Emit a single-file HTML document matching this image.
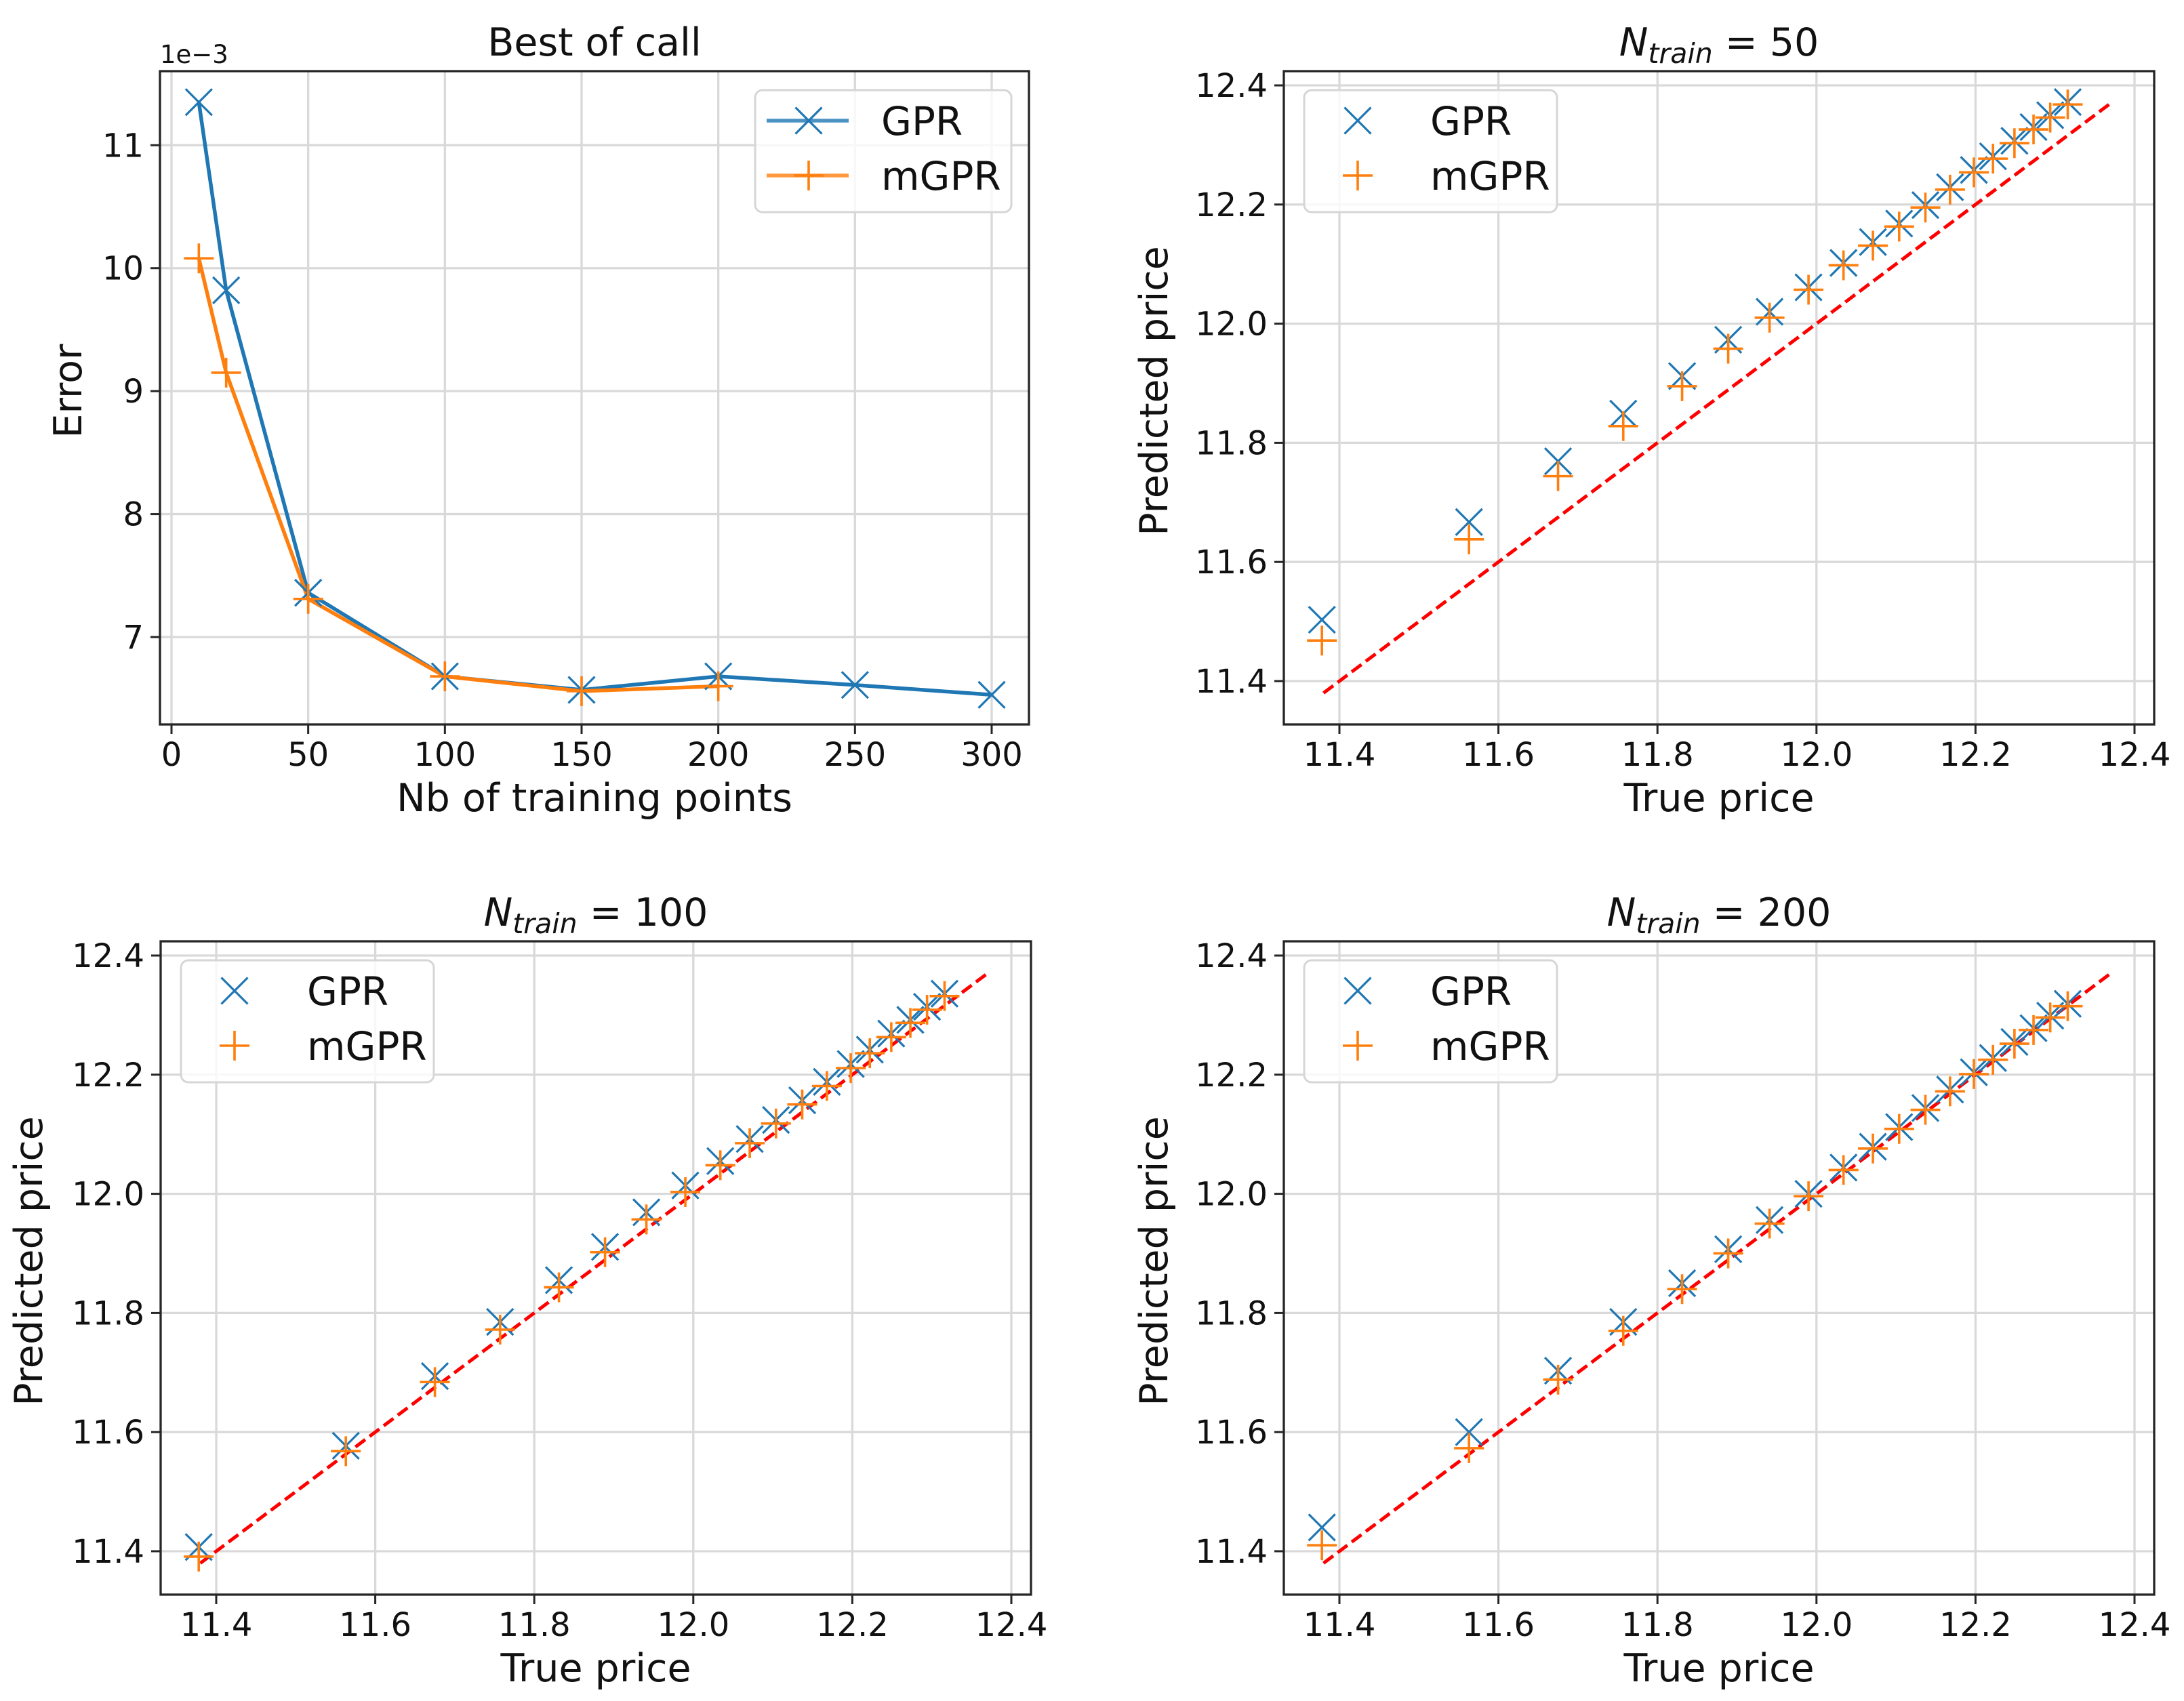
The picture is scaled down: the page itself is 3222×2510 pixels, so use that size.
<!DOCTYPE html>
<html><head><meta charset="utf-8"><style>
html,body{margin:0;padding:0;background:#fff;}
svg{display:block;font-family:"DejaVu Sans","Liberation Sans",sans-serif;}
</style></head><body>
<svg id="fig" width="3222" height="2510" viewBox="0 0 3222 2510" xmlns="http://www.w3.org/2000/svg"></svg>
<script>
// ---- Panel 1 data: Best of call ----
const nbPointsGPR = [10, 20, 50, 100, 150, 200, 250, 300];
const errorGPR = [11.35, 9.82, 7.36, 6.68, 6.57, 6.68, 6.61, 6.53];
const nbPointsMGPR = [10, 20, 50, 100, 150, 200];
const errorMGPR = [10.08, 9.15, 7.31, 6.68, 6.56, 6.60];
const errXTicks = [0, 50, 100, 150, 200, 250, 300];
const errYTicks = [7, 8, 9, 10, 11];

// ---- Scatter panels data ----
const truePrice = [11.378, 11.563, 11.675, 11.757, 11.831, 11.889, 11.941, 11.990, 12.034, 12.071, 12.104, 12.137, 12.168, 12.198, 12.222, 12.249, 12.273, 12.294, 12.316];
const gpr50 = [11.503, 11.667, 11.769, 11.849, 11.912, 11.973, 12.020, 12.061, 12.102, 12.137, 12.168, 12.199, 12.229, 12.258, 12.281, 12.307, 12.330, 12.350, 12.372];
const mgpr50 = [11.468, 11.638, 11.744, 11.828, 11.895, 11.958, 12.010, 12.057, 12.098, 12.131, 12.163, 12.195, 12.225, 12.254, 12.277, 12.303, 12.326, 12.346, 12.368];
const gpr100 = [11.407, 11.577, 11.694, 11.785, 11.855, 11.911, 11.969, 12.014, 12.055, 12.092, 12.124, 12.157, 12.188, 12.218, 12.242, 12.269, 12.292, 12.314, 12.336];
const mgpr100 = [11.391, 11.568, 11.684, 11.772, 11.843, 11.902, 11.957, 12.003, 12.048, 12.085, 12.118, 12.150, 12.181, 12.211, 12.236, 12.263, 12.287, 12.309, 12.332];
const gpr200 = [11.440, 11.600, 11.703, 11.785, 11.850, 11.907, 11.956, 12.000, 12.044, 12.079, 12.112, 12.144, 12.175, 12.204, 12.228, 12.255, 12.278, 12.299, 12.319];
const mgpr200 = [11.410, 11.573, 11.688, 11.770, 11.840, 11.900, 11.950, 11.996, 12.040, 12.076, 12.109, 12.141, 12.172, 12.201, 12.225, 12.252, 12.275, 12.296, 12.315];
const idealLine = [11.38, 12.37];
const priceTicks = [11.4, 11.6, 11.8, 12.0, 12.2, 12.4];
const priceTickLabels = ["11.4", "11.6", "11.8", "12.0", "12.2", "12.4"];

const NS = "http://www.w3.org/2000/svg";
const svg = document.getElementById("fig");
const BLUE = "#1f77b4", ORANGE = "#ff7f0e";

function mk(tag, attrs, parent) {
  const e = document.createElementNS(NS, tag);
  for (const k in attrs) e.setAttribute(k, attrs[k]);
  (parent || svg).appendChild(e);
  return e;
}
function lin(d0, d1, p0, p1) { return v => p0 + (v - d0) * (p1 - p0) / (d1 - d0); }

function xMarker(g, cx, cy, name) {
  const m = mk("path", {d: `M${cx-19.5},${cy-19.5}L${cx+19.5},${cy+19.5}M${cx-19.5},${cy+19.5}L${cx+19.5},${cy-19.5}`, stroke: BLUE, "stroke-width": 3.2, fill: "none"}, g);
  
  
}
function plusMarker(g, cx, cy, name) {
  const m = mk("path", {d: `M${cx-22},${cy}L${cx+22},${cy}M${cx},${cy-22}L${cx},${cy+22}`, stroke: ORANGE, "stroke-width": 3.6, fill: "none"}, g);
  
  
}

function axesFrame(p, g) {
  p.xticks.forEach((t, i) => {
    const x = p.sx(t);
    const gl = mk("line", {x1: x, x2: x, y1: p.top, y2: p.bottom, stroke: "#d9d9d9", "stroke-width": 3.3}, g);
    
    
    const tk = mk("line", {x1: x, x2: x, y1: p.bottom, y2: p.bottom + 14, stroke: "#262626", "stroke-width": 3}, g);
    
    
    const tl = mk("text", {x: x, y: p.bottom + 61, "font-size": 48, "text-anchor": "middle", fill: "#111"}, g);
    tl.textContent = p.xlabels[i];
    
    
  });
  p.yticks.forEach((t, i) => {
    const y = p.sy(t);
    const gl = mk("line", {x1: p.left, x2: p.right, y1: y, y2: y, stroke: "#d9d9d9", "stroke-width": 3.3}, g);
    
    
    const tk = mk("line", {x1: p.left - 14, x2: p.left, y1: y, y2: y, stroke: "#262626", "stroke-width": 3}, g);
    
    
    const tl = mk("text", {x: p.left - 24, y: y + 17, "font-size": 48, "text-anchor": "end", fill: "#111"}, g);
    tl.textContent = p.ylabels[i];
    
    
  });
}
function axesSpines(p, g) {
  const r = mk("rect", {x: p.left, y: p.top, width: p.right - p.left, height: p.bottom - p.top, fill: "none", stroke: "#262626", "stroke-width": 3.3}, g);
  
  
  const xl = mk("text", {x: (p.left + p.right) / 2, y: p.bottom + 128, "font-size": 57, "text-anchor": "middle", fill: "#111"}, g);
  xl.textContent = p.xlabel;
  
  
  const yc = (p.top + p.bottom) / 2 - 10;
  const yl = mk("text", {x: p.ylx, y: yc, "font-size": 57, "text-anchor": "middle", fill: "#111", transform: `rotate(-90 ${p.ylx} ${yc})`}, g);
  yl.textContent = p.ylabel;
  
  
}
function legend(g, x, y, w, withLines) {
  const box = mk("rect", {x: x, y: y, width: w, height: 180, rx: 11, ry: 11, fill: "rgba(255,255,255,0.8)", stroke: "#d6d6d6", "stroke-width": 3}, g);
  
  
  const rows = [["GPR", BLUE, 45], ["mGPR", ORANGE, 126]];
  rows.forEach(([lab, col, dy], i) => {
    const cy = y + dy, mx = x + 79;
    if (withLines) {
      const ln = mk("line", {x1: x + 17, x2: x + 138, y1: cy, y2: cy, stroke: col, "stroke-width": 5.5, opacity: 0.8}, g);
      
      
    }
    if (i === 0) xMarker(g, mx, cy, 'legend-marker-gpr'); else plusMarker(g, mx, cy, 'legend-marker-mgpr');
    const t = mk("text", {x: x + 186, y: cy + 21, "font-size": 58, fill: "#111"}, g);
    t.textContent = lab;
    
    
  });
}
function title(g, cx, cy, plain, n) {
  const t = mk("text", {x: cx, y: cy, "font-size": 57, "text-anchor": "middle", fill: "#111"}, g);
  
  
  if (plain) { t.textContent = plain; return; }
  const a = mk("tspan", {"font-style": "italic"}, t); a.textContent = "N";
  const b = mk("tspan", {"font-style": "italic", "font-size": 41, dy: 11}, t); b.textContent = "train";
  const c = mk("tspan", {dy: -11}, t); c.textContent = " = " + n;
}

// ---------- Panel 1 ----------
(function () {
  const g = mk("g", {});  
  const p = {left: 236, right: 1518, top: 105, bottom: 1069,
    sx: lin(0, 300, 253, 1463), sy: lin(7, 11, 940, 214.3),
    xticks: errXTicks, xlabels: errXTicks.map(String), yticks: errYTicks, ylabels: errYTicks.map(String),
    xlabel: "Nb of training points", ylabel: "Error", ylx: 120};
  axesFrame(p, g);
  const lG = mk("polyline", {points: nbPointsGPR.map((v, i) => p.sx(v) + "," + p.sy(errorGPR[i])).join(" "), fill: "none", stroke: BLUE, "stroke-width": 5.5}, g);
   
  const lM = mk("polyline", {points: nbPointsMGPR.map((v, i) => p.sx(v) + "," + p.sy(errorMGPR[i])).join(" "), fill: "none", stroke: ORANGE, "stroke-width": 5.5}, g);
   
  nbPointsGPR.forEach((v, i) => xMarker(g, p.sx(v), p.sy(errorGPR[i]), 'gpr-point'));
  nbPointsMGPR.forEach((v, i) => plusMarker(g, p.sx(v), p.sy(errorMGPR[i]), 'mgpr-point'));
  axesSpines(p, g);
  const off = mk("text", {x: 236, y: 93, "font-size": 37, fill: "#111"}, g);
  off.textContent = "1e\u22123";
   
  legend(g, 1114, 133, 378, true);
  title(g, 877, 82, "Best of call");
})();

// ---------- Scatter panels ----------
function scatterPanel(left, top, gpr, mgpr, n, ylx) {
  const g = mk("g", {});  
  const p = {left: left, right: left + 1284, top: top, bottom: top + 964,
    sx: lin(11.4, 12.4, left + 82, left + 82 + 1173), sy: lin(11.4, 12.4, top + 900, top + 21),
    xticks: priceTicks, xlabels: priceTickLabels, yticks: priceTicks, ylabels: priceTickLabels,
    xlabel: "True price", ylabel: "Predicted price", ylx: ylx};
  axesFrame(p, g);
  const rl = mk("line", {x1: p.sx(idealLine[0]), y1: p.sy(idealLine[0]), x2: p.sx(idealLine[1]), y2: p.sy(idealLine[1]), stroke: "#ff0000", "stroke-width": 5, "stroke-dasharray": "18 8"}, g);
   
  truePrice.forEach((v, i) => xMarker(g, p.sx(v), p.sy(gpr[i]), 'gpr-point'));
  truePrice.forEach((v, i) => plusMarker(g, p.sx(v), p.sy(mgpr[i]), 'mgpr-point'));
  axesSpines(p, g);
  legend(g, left + 30, top + 28, 373, false);
  title(g, (p.left + p.right) / 2, top - 23, null, n);
}
scatterPanel(1894, 105, gpr50, mgpr50, 50, 1722);
scatterPanel(237, 1389, gpr100, mgpr100, 100, 62);
scatterPanel(1894, 1389, gpr200, mgpr200, 200, 1722);
</script>
</body></html>
